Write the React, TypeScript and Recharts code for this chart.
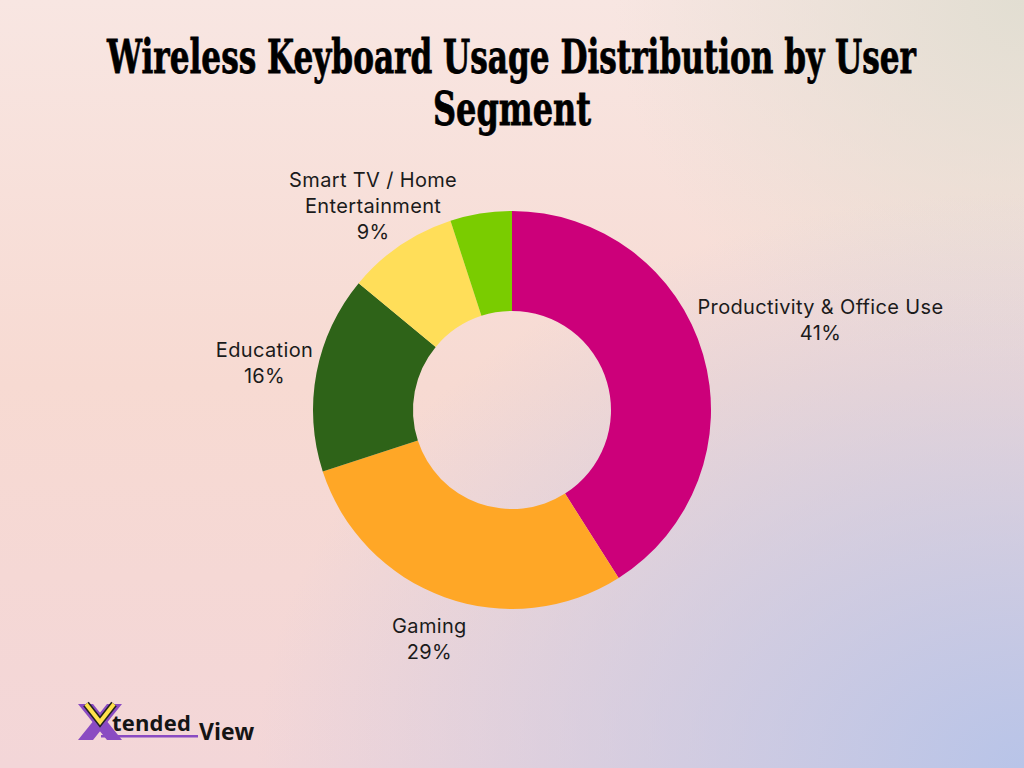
import React from 'react';
import { PieChart, Pie, Cell } from 'recharts';

// user segments and their share of wireless keyboard usage (%)
const SEGMENTS = [
  'Productivity & Office Use',
  'Gaming',
  'Education',
  'Smart TV / Home Entertainment',
  'Other',
];
const SHARES = [41, 29, 16, 9, 5];
const COLORS = ['#CC007A', '#FFA726', '#2E6318', '#FFDE59', '#7ACC00'];

const LABEL_FONT = 20;
const LABEL_SPACING = 0.35;
const LINE_HEIGHT = 26;
const LABEL_MAX_WIDTH = 270;
const RADIAN = Math.PI / 180;

let ctx: CanvasRenderingContext2D | null = null;
const measure = (s: string): number => {
  if (!ctx) ctx = document.createElement('canvas').getContext('2d');
  const base = ctx ? (ctx.font = `${LABEL_FONT}px Inter`, ctx.measureText(s).width) : s.length * LABEL_FONT * 0.55;
  return base + s.length * LABEL_SPACING;
};

// greedy word wrap
const wrap = (s: string): string[] => {
  const words = s.split(' ');
  const lines: string[] = [];
  let cur = '';
  words.forEach(w => {
    const next = cur ? `${cur} ${w}` : w;
    if (cur && measure(next) > LABEL_MAX_WIDTH) {
      lines.push(cur);
      cur = w;
    } else {
      cur = next;
    }
  });
  if (cur) lines.push(cur);
  return lines;
};

const renderLabel = (props: any) => {
  const { cx, cy, midAngle, outerRadius, percent, name } = props;
  if (percent < 0.06) return null;
  const lines = [...wrap(name), `${Math.round(percent * 100)}%`];
  const w = Math.max(...lines.map(measure));
  const h = lines.length * LINE_HEIGHT;
  const cos = Math.cos(-midAngle * RADIAN);
  const sin = Math.sin(-midAngle * RADIAN);
  // push the text block out until it clears the ring (a bit more below, a bit less above,
  // taller wrapped blocks tuck in a little)
  const extent = Math.sqrt((cos * w / 2) ** 2 + (sin * h / 2) ** 2);
  const r = outerRadius + 7 + 11 * sin - 7 * (lines.length - 2) + extent;
  const x = cx + r * cos;
  const y = cy + r * sin;
  return (
    <text
      x={x}
      y={y}
      textAnchor="middle"
      fill="#1b1b1b"
      fontFamily="Inter, 'Noto Sans', sans-serif"
      fontSize={LABEL_FONT}
      letterSpacing={LABEL_SPACING}
    >
      {lines.map((l, i) => (
        <tspan key={i} x={x} y={y + (i - (lines.length - 1) / 2) * LINE_HEIGHT} dominantBaseline="central">
          {l}
        </tspan>
      ))}
    </text>
  );
};

const Logo: React.FC = () => (
  <svg width={200} height={50} style={{ position: 'absolute', left: 75, top: 700 }}>
    <polygon points="3,4 18,4 47,40 32,40" fill="#8A4BC2" />
    <polygon points="32,4 47,4 18,40 3,40" fill="#8A4BC2" />
    <polyline points="11,4 25,22 39,4" fill="none" stroke="#222" strokeWidth={7} />
    <polyline points="11,4 25,22 39,4" fill="none" stroke="#FFE24A" strokeWidth={4} />
    <rect x={26} y={35} width={97} height={2.5} fill="#8A4BC2" />
    <text x={37} y={31} fontFamily="'Open Sans', sans-serif" fontWeight={700} fontSize={22} fill="#151515" letterSpacing={0.2}>
      tended
    </text>
    <text x={124} y={40} fontFamily="'Open Sans', sans-serif" fontWeight={700} fontSize={23} fill="#151515">
      View
    </text>
  </svg>
);

const App: React.FC = () => {
  const data = SEGMENTS.map((name, i) => ({ name, value: SHARES[i] }));

  return (
    <div
      style={{
        position: 'absolute',
        left: 0,
        top: 0,
        width: 1024,
        height: 768,
        overflow: 'hidden',
        background:
          'radial-gradient(75% 75% at 100% 100%, rgba(184,196,232,1) 0%, rgba(184,196,232,0) 100%),' +
          'radial-gradient(40% 50% at 100% 0%, rgba(226,222,210,1) 0%, rgba(226,222,210,0) 100%),' +
          'linear-gradient(180deg, #F8E6E2 0%, #F7DAD2 50%, #F3D6D8 100%)',
      }}
    >
      <svg width={1024} height={150} style={{ position: 'absolute', left: 0, top: 0 }}>
        <text
          x={511.5}
          y={73}
          textAnchor="middle"
          fontFamily="'DejaVu Serif', 'Liberation Serif', serif"
          fontWeight={700}
          fontSize={47}
          textLength={809}
          lengthAdjust="spacingAndGlyphs"
          fill="#000"
          stroke="#000"
          strokeWidth={0.8}
        >
          Wireless Keyboard Usage Distribution by User
        </text>
        <text
          x={512}
          y={125}
          textAnchor="middle"
          fontFamily="'DejaVu Serif', 'Liberation Serif', serif"
          fontWeight={700}
          fontSize={47}
          textLength={158}
          lengthAdjust="spacingAndGlyphs"
          fill="#000"
          stroke="#000"
          strokeWidth={0.8}
        >
          Segment
        </text>
      </svg>
      <div style={{ position: 'absolute', left: 0, top: 0 }}>
        <PieChart width={1024} height={768} margin={{ top: 0, right: 0, bottom: 0, left: 0 }}>
          <Pie
            data={data}
            dataKey="value"
            nameKey="name"
            cx={512}
            cy={410}
            innerRadius={99}
            outerRadius={199}
            startAngle={90}
            endAngle={-270}
            stroke="none"
            labelLine={false}
            label={renderLabel}
            isAnimationActive={false}
          >
            {data.map((d, i) => (
              <Cell key={d.name} fill={COLORS[i]} />
            ))}
          </Pie>
        </PieChart>
      </div>
      <Logo />
    </div>
  );
};

export default App;
